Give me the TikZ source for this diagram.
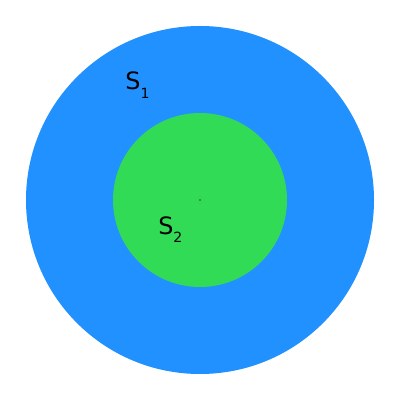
\documentclass[tikz,border=0pt]{standalone}
\usepackage{fontspec}
\setmainfont{DejaVu Sans}
\usepackage{tikz}
\usetikzlibrary{positioning}
\definecolor{setblue}{RGB}{33,145,255}
\definecolor{setgreen}{RGB}{50,219,86}
\newcommand{\setname}[2]{#1\raisebox{-5.8pt}{\fontsize{10}{10}\selectfont #2}}
\tikzset{
  %% ---- sets ----
  setdisk/.style = {circle, fill=#1, draw=none, inner sep=0pt},
  setlabel/.style = {anchor=base west, inner sep=0pt,
                     font=\fontsize{17}{17}\selectfont},
}

\begin{document}
\begin{tikzpicture}
\useasboundingbox (-5,-5) rectangle (5,5);
\node[setdisk=setblue,  minimum size=8.7cm]  (s1) at (0,0) {};
\node[setdisk=setgreen, minimum size=4.35cm] (s2) at (s1.center) {};
\node[circle, fill=black!60!setgreen, inner sep=0pt, minimum size=1.4pt] (centre) at (s2.center) {};
\node[setlabel] (s1name) at (-1.87,2.75)  {\setname{S}{1}};
\node[setlabel] (s2name) at (-1.05,-0.87) {\setname{S}{2}};
\end{tikzpicture}
\end{document}
